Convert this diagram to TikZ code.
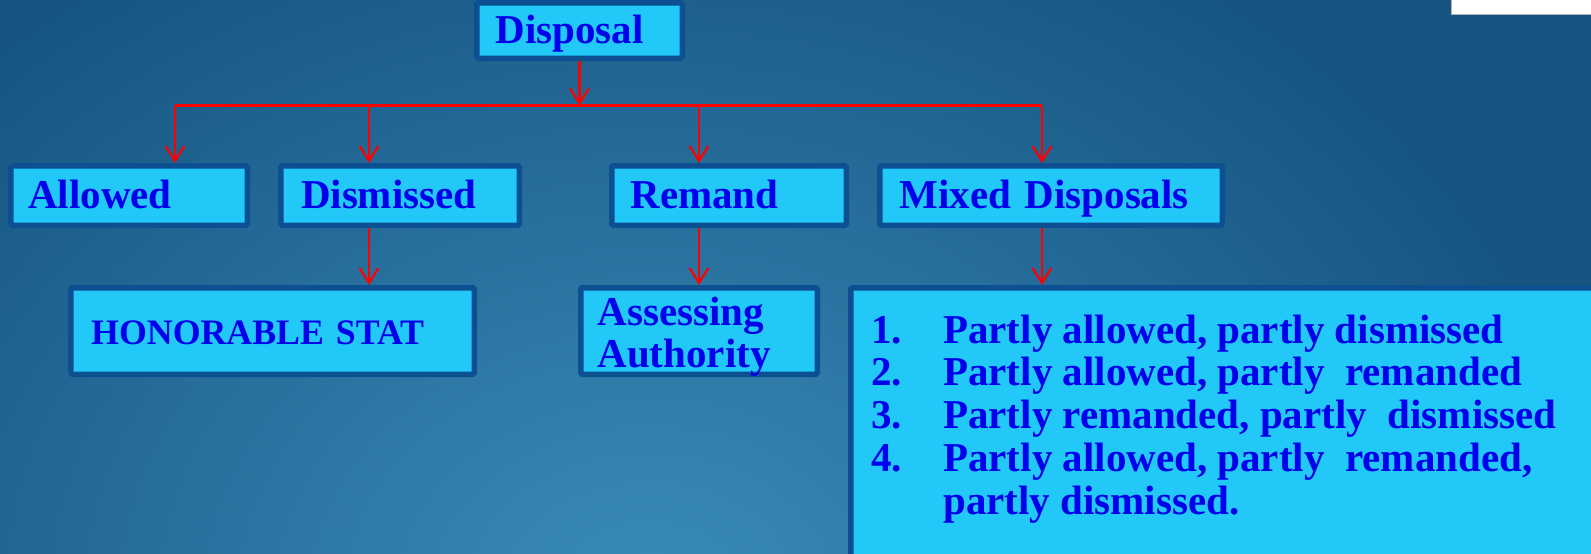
\documentclass[tikz,border=0pt]{standalone}
\usepackage{fontspec}
\setmainfont{Liberation Serif}
\usetikzlibrary{arrows.meta}
\definecolor{bginner}{RGB}{58,140,187}
\definecolor{bgouter}{RGB}{22,85,130}
\definecolor{boxfill}{RGB}{34,200,248}
\definecolor{boxbord}{RGB}{12,80,145}
\definecolor{txtblue}{RGB}{0,0,235}
\begin{document}
\begin{tikzpicture}[x=1pt,y=-1pt,
  box/.style={draw=boxbord, line width=5.5pt, fill=boxfill, anchor=north west,
    rounded corners=1.5pt, text=txtblue, align=left,
    font=\fontsize{41}{42.75}\selectfont\bfseries},
  onel/.style={text height=32pt, text depth=6pt},
  arr/.style={draw=red, line width=2.2pt, -{Straight Barb[length=15pt,width=19pt]}},
  redline/.style={draw=red, line width=2.2pt},
  listtext/.style={anchor=base west, inner sep=0pt, text=txtblue,
    font=\fontsize{41}{42.75}\selectfont\bfseries}]
\useasboundingbox (0,0) rectangle (1591,554);
\clip (0,0) rectangle (1591,554);
% background
\shade[inner color=bginner, outer color=bgouter] (-300,-150) rectangle (1600,1350);
% cut-off logo panel at top right
\draw[draw=gray!60, fill=white, line width=1pt] (1451,-5) rectangle (1600,14);

% boxes
\node[box, onel, inner xsep=19pt, text width=167.5pt, minimum height=55.5pt] (disp) at (474,0) {Disposal};

\node[box, onel, inner xsep=17.5pt, text width=201.5pt, minimum height=59.5pt] (allowed) at (8,163) {Allowed};
\node[box, onel, inner xsep=20.25pt, text width=198pt, minimum height=59.5pt] (dism) at (278,163) {Dismissed};
\node[box, onel, inner xsep=18.75pt, text width=197pt, minimum height=59.5pt] (remand) at (609,163) {Remand};
\node[box, onel, inner xsep=19.75pt, text width=303pt, minimum height=59.5pt] (mixed) at (877,163) {Mixed Disposals};

\node[box, onel, inner xsep=20.45pt, text width=362.6pt, minimum height=86.5pt,
  font=\fontsize{35.8}{40}\selectfont\bfseries] (hon) at (68,285) {HONORABLE STAT};
\node[box, inner xsep=16.75pt, inner ysep=0pt, text width=203pt, minimum height=86.5pt] (assess) at (578,285) {\rule{0pt}{31pt}Assessing\\\raisebox{0pt}[\height][0pt]{Authority}};
\node[box, minimum width=794.5pt, minimum height=314.5pt] (mixlist) at (848,285) {};

\node[listtext] (mixtext) at (871,343) {\begin{tabular}[t]{@{}l@{}}
\makebox[72pt][l]{1.}Partly allowed, partly dismissed\\
\makebox[72pt][l]{2.}Partly allowed, partly~ remanded\\
\makebox[72pt][l]{3.}Partly remanded, partly~ dismissed\\
\makebox[72pt][l]{4.}Partly allowed, partly~ remanded,\\
\makebox[72pt][l]{}partly dismissed.
\end{tabular}};

% connectors
\coordinate (b1) at (175,105.5);
\coordinate (b2) at (369,105.5);
\coordinate (b3) at (699,105.5);
\coordinate (b4) at (1042,105.5);

\draw[redline] (b1) -- (b4);
\draw[arr] (disp.south) -- (disp.south |- b1);
\draw[arr] (b1) -- (b1 |- allowed.north);
\draw[arr] (b2) -- (b2 |- dism.north);
\draw[arr] (b3) -- (b3 |- remand.north);
\draw[arr] (b4) -- (b4 |- mixed.north);

\draw[arr] (dism.south -| b2) -- (b2 |- hon.north);
\draw[arr] (remand.south -| b3) -- (b3 |- assess.north);
\draw[arr] (mixed.south -| b4) -- (b4 |- mixlist.north);
\end{tikzpicture}
\end{document}
